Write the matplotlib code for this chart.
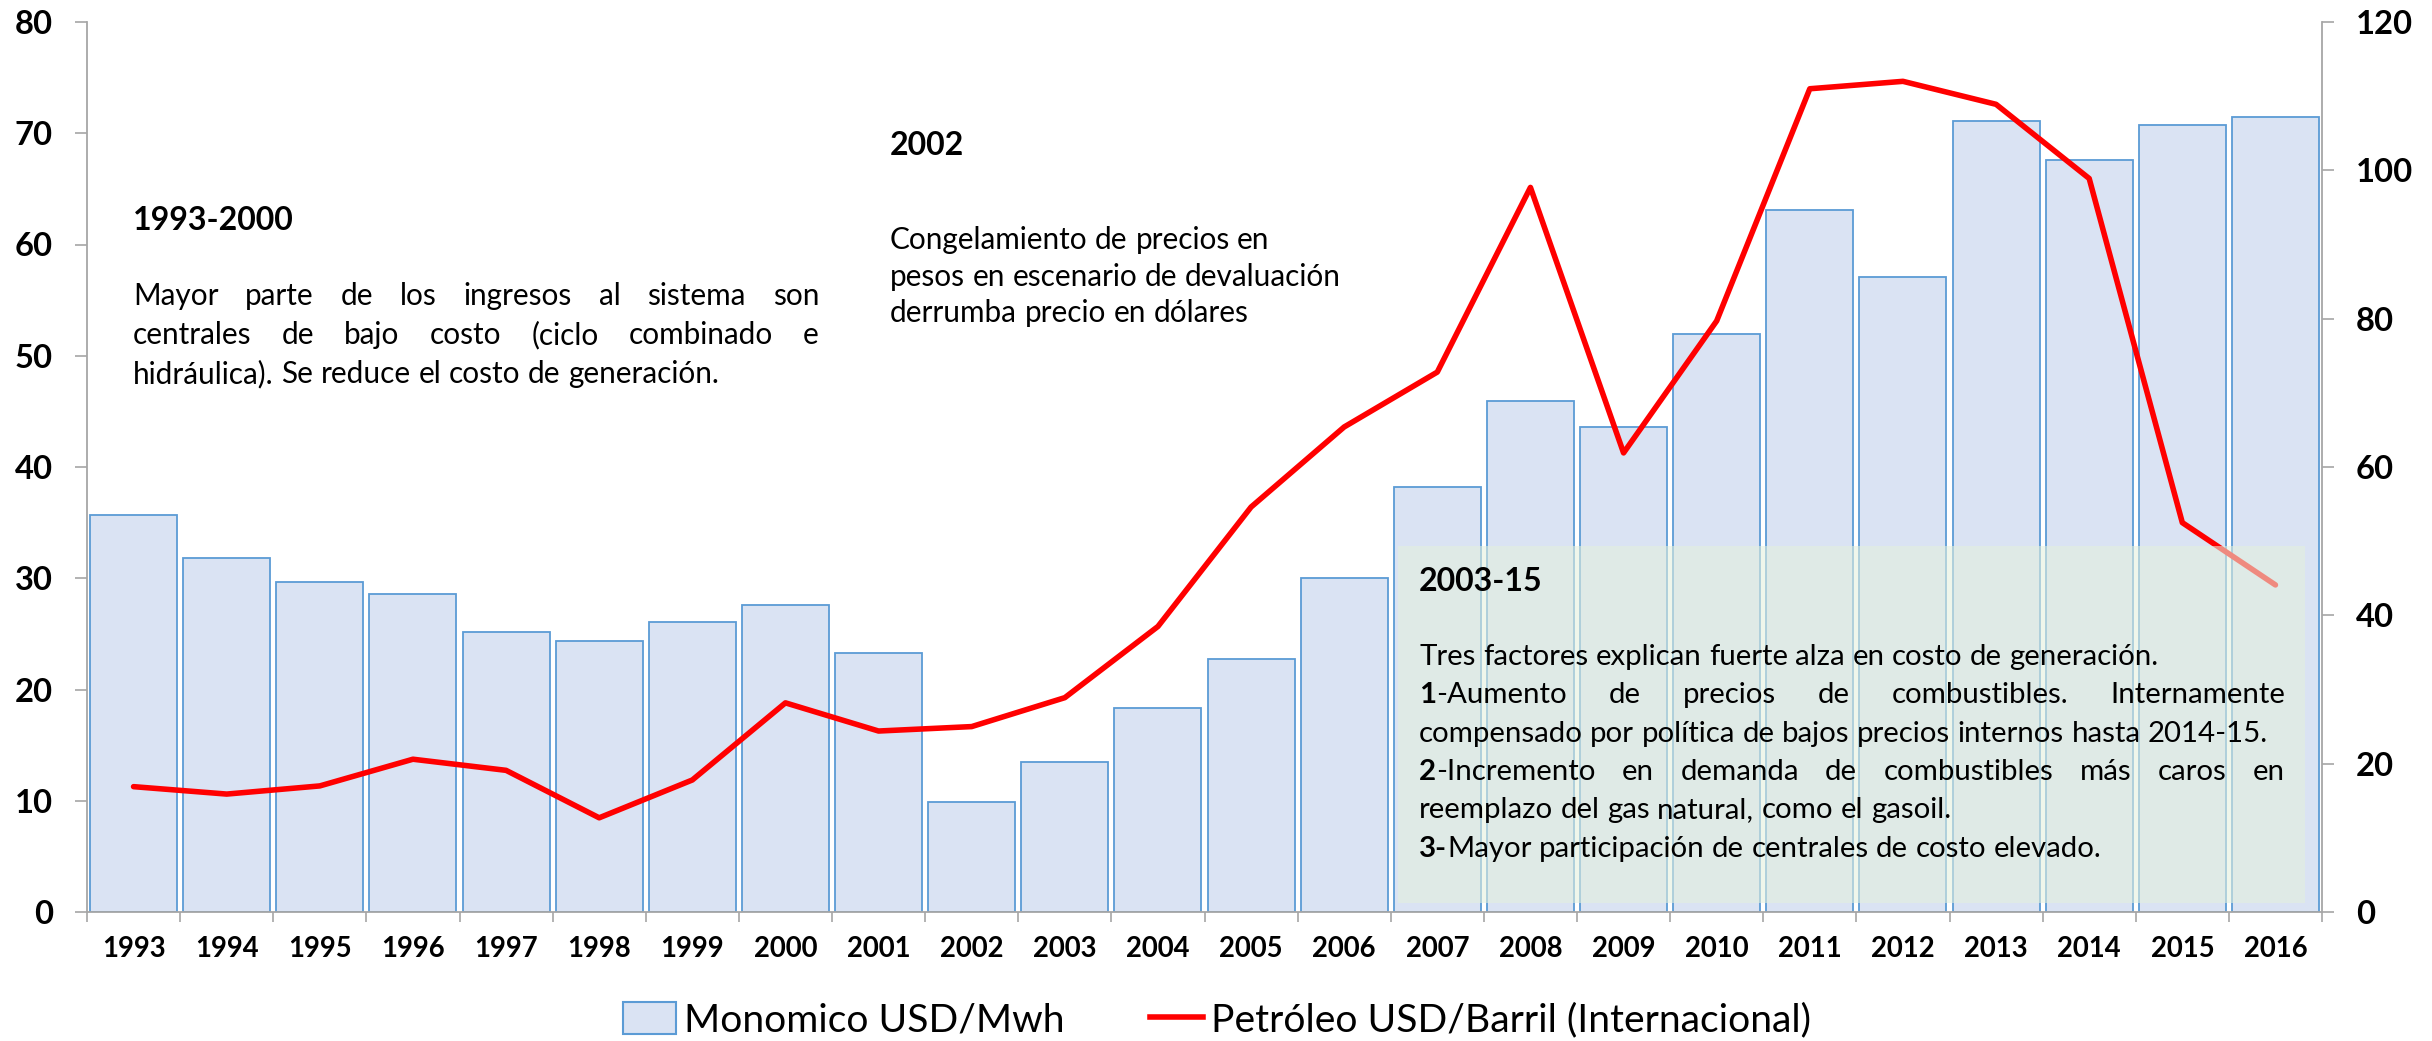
import numpy as np
import matplotlib
matplotlib.use("Agg")
import matplotlib.pyplot as plt
from matplotlib.patches import Rectangle, Patch
from matplotlib.lines import Line2D

years = [str(y) for y in range(1993, 2017)]
monomico = [35.7, 31.8, 29.7, 28.6, 25.2, 24.4, 26.1, 27.6, 23.3, 9.9, 13.5, 18.3,
            22.7, 30.0, 38.2, 45.9, 43.6, 52.0, 63.1, 57.1, 71.1, 67.6, 70.7, 71.5]
petroleo = [16.9, 15.9, 17.0, 20.6, 19.1, 12.7, 17.8, 28.2, 24.4, 25.0, 28.9, 38.5,
            54.6, 65.4, 72.8, 97.7, 61.9, 79.7, 111.0, 112.0, 108.9, 98.9, 52.5, 44.1]
left_ticks = [0, 10, 20, 30, 40, 50, 60, 70, 80]
right_ticks = [0, 20, 40, 60, 80, 100, 120]
legend_labels = ["Monomico USD/Mwh", "Petróleo USD/Barril (Internacional)"]

FONT = "Lato"
plt.rcParams["font.family"] = [FONT, "DejaVu Sans"]

W, H = 2432, 1041
fig = plt.figure(figsize=(W / 100, H / 100), dpi=100)
r = fig.canvas.get_renderer()

def fx(px):
    return px / W

def fy(py):
    return 1 - py / H

def width_of(txt, size=10, weight="normal"):
    t = fig.text(0, 0, txt, fontsize=size, fontweight=weight)
    w = t.get_window_extent(r).width
    t.remove()
    return w

def fit(txt, target, weight="normal"):
    return 10 * target / width_of(txt, 10, weight)

# axes
x0p, x1p, ytop, ybot = 87, 2322, 22, 912
ax = fig.add_axes([fx(x0p), fy(ybot), (x1p - x0p) / W, (ybot - ytop) / H])
x = np.arange(len(years))
ax.bar(x, monomico, width=0.935, color="#DAE3F3", edgecolor="#5B9BD5", linewidth=1.3, zorder=2)
ax.set_xlim(-0.5, len(years) - 0.5)
ax.set_ylim(0, 80)
ax.set_yticks(left_ticks)

ax2 = ax.twinx()
ax2.plot(x, petroleo, color="#FF0000", lw=4, solid_joinstyle="round", solid_capstyle="round", zorder=3)
ax2.set_ylim(0, 120)
ax2.set_yticks(right_ticks)

gray = "#A6A6A6"
for a in (ax, ax2):
    for s in a.spines.values():
        s.set_visible(False)
ax.spines["left"].set_visible(True)
ax.spines["bottom"].set_visible(True)
ax2.spines["right"].set_visible(True)
for s in (ax.spines["left"], ax.spines["bottom"], ax2.spines["right"]):
    s.set_color(gray)
    s.set_linewidth(1.3)

ax.set_xticks(np.arange(-0.5, len(years), 1))
ax.set_xticklabels([])
ax.set_xticks(x, minor=True)
ax.set_xticklabels(years, minor=True)

ysize = fit("80", 38, "bold")
xsize = fit("1993", 64, "bold")
ax.tick_params(axis="x", which="major", length=7.5, width=1.2, color=gray, direction="out")
ax.tick_params(axis="x", which="minor", length=0, pad=17, labelsize=xsize)
ax.tick_params(axis="y", length=8.5, width=1.2, color=gray, pad=16, labelsize=ysize)
ax2.tick_params(axis="y", length=8.5, width=1.2, color=gray, pad=16, labelsize=ysize)
for lab in ax.get_xticklabels(minor=True) + ax.get_yticklabels() + ax2.get_yticklabels():
    lab.set_fontweight("bold")

# green translucent box
box = Rectangle((fx(1398), fy(903)), fx(2305) - fx(1398), fy(546) - fy(903),
                transform=fig.transFigure, facecolor=(228 / 255, 240 / 255, 221 / 255),
                alpha=0.58, edgecolor="none", zorder=5)
fig.add_artist(box)

def draw_line(segwords, xl, xr, ybase, size, justify):
    # segwords: list of words; each word is list of (text, weight)
    widths = []
    for word in segwords:
        widths.append([width_of(t, size, w) for t, w in word])
    total = sum(sum(ws) for ws in widths)
    if justify and len(segwords) > 1:
        gap = (xr - xl - total) / (len(segwords) - 1)
    else:
        gap = width_of("a a", size) - width_of("aa", size)
    xc = xl
    for word, ws in zip(segwords, widths):
        for (t, w), wd in zip(word, ws):
            fig.text(fx(xc), fy(ybase), t, fontsize=size, fontweight=w,
                     ha="left", va="baseline", zorder=6)
            xc += wd
        xc += gap

def plain(s):
    return [[(w, "normal")] for w in s.split()]

# headings
hsize = fit("1993-2000", 162, "bold")
fig.text(fx(133), fy(230), "1993-2000", fontsize=hsize, fontweight="bold", ha="left", va="baseline", zorder=6)
fig.text(fx(890), fy(155), "2002", fontsize=hsize, fontweight="bold", ha="left", va="baseline", zorder=6)
fig.text(fx(1419), fy(591), "2003-15", fontsize=hsize, fontweight="bold", ha="left", va="baseline", zorder=6)

# block 1
bsize1 = fit("pesos en escenario de devaluación", 452)
b1 = ["Mayor parte de los ingresos al sistema son",
      "centrales de bajo costo (ciclo combinado e",
      "hidráulica). Se reduce el costo de generación."]
draw_line(plain(b1[0]), 133, 819, 305, bsize1, True)
draw_line(plain(b1[1]), 133, 819, 344, bsize1, True)
draw_line(plain(b1[2]), 133, 819, 383, bsize1, False)

# block 2
b2 = ["Congelamiento de precios en", "pesos en escenario de devaluación", "derrumba precio en dólares"]
for line, yb in zip(b2, [249, 286, 322]):
    draw_line(plain(line), 890, 1400, yb, bsize1, False)

# block 3
bsize3 = fit("Tres factores explican fuerte alza en costo de generación.", 740)
l1 = plain("Tres factores explican fuerte alza en costo de generación.")
l2 = [[("1", "bold"), ("-Aumento", "normal")]] + plain("de precios de combustibles. Internamente")
l3 = plain("compensado por política de bajos precios internos hasta 2014-15.")
l4 = [[("2", "bold"), ("-Incremento", "normal")]] + plain("en demanda de combustibles más caros en")
l5 = plain("reemplazo del gas natural, como el gasoil.")
l6 = [[("3-", "bold"), ("Mayor", "normal")]] + plain("participación de centrales de costo elevado.")
for ln, yb, j in zip([l1, l2, l3, l4, l5, l6], [665, 703, 742, 780, 818, 857],
                     [False, True, False, True, False, False]):
    draw_line(ln, 1419, 2285, yb, bsize3, j)

# legend
lsize = fit(legend_labels[0], 380)
handles = [Patch(facecolor="#DAE3F3", edgecolor="#5B9BD5", linewidth=1.5),
           Line2D([0], [0], color="#FF0000", lw=4)]
fig.legend(handles, legend_labels, loc="center", bbox_to_anchor=(fx(1217), fy(1020)),
           ncol=2, frameon=False, fontsize=lsize, handlelength=53 / (lsize * 100 / 72),
           handleheight=0.9, handletextpad=0.2, columnspacing=2.2, borderpad=0)

fig.savefig("out.png", dpi=100)
